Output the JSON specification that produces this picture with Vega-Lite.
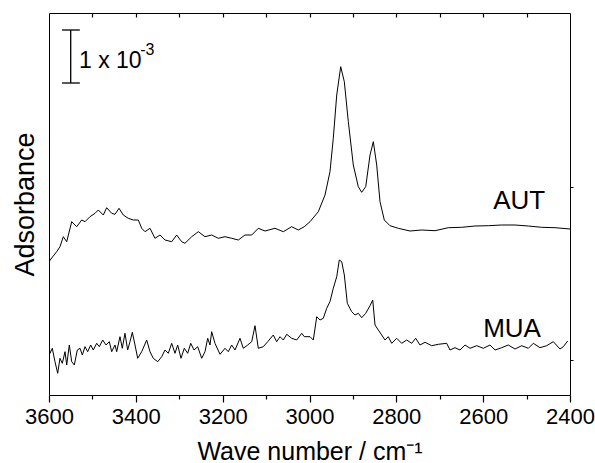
{
  "$schema": "https://vega.github.io/schema/vega-lite/v6.json",
  "width": 521,
  "height": 382,
  "autosize": {"type": "none"},
  "padding": {"left": 49, "top": 13, "right": 25, "bottom": 68},
  "background": "white",
  "config": {
    "view": {"stroke": null},
    "font": "Liberation Sans",
    "axis": {"domainColor": "black", "tickColor": "black", "labelColor": "black", "titleColor": "black", "grid": false, "labelFont": "Liberation Sans", "titleFont": "Liberation Sans", "titleFontWeight": "normal"}
  },
  "datasets": {
    "curves": [
      {"s":"AUT","w":3600,"a":133.3},{"s":"AUT","w":3593.8,"a":137},{"s":"AUT","w":3582.3,"a":143.3},{"s":"AUT","w":3574.7,"a":148.3},{"s":"AUT","w":3567.1,"a":158.3},{"s":"AUT","w":3559.2,"a":153.3},{"s":"AUT","w":3547.7,"a":173.3},{"s":"AUT","w":3536.2,"a":168.3},{"s":"AUT","w":3524.7,"a":175},{"s":"AUT","w":3517.1,"a":173.3},{"s":"AUT","w":3505.6,"a":178.3},{"s":"AUT","w":3494,"a":181.7},{"s":"AUT","w":3486.4,"a":185},{"s":"AUT","w":3474.9,"a":180},{"s":"AUT","w":3467.1,"a":187.3},{"s":"AUT","w":3455.6,"a":181.7},{"s":"AUT","w":3448,"a":180.7},{"s":"AUT","w":3438.8,"a":186.7},{"s":"AUT","w":3428.9,"a":180},{"s":"AUT","w":3417.4,"a":176.7},{"s":"AUT","w":3405.8,"a":175},{"s":"AUT","w":3394.3,"a":175},{"s":"AUT","w":3386.5,"a":166.7},{"s":"AUT","w":3378.9,"a":163.3},{"s":"AUT","w":3367.4,"a":166.7},{"s":"AUT","w":3355.9,"a":156.7},{"s":"AUT","w":3344.3,"a":160},{"s":"AUT","w":3332.8,"a":155},{"s":"AUT","w":3317.4,"a":153.3},{"s":"AUT","w":3305.9,"a":160},{"s":"AUT","w":3294.4,"a":153.3},{"s":"AUT","w":3286.8,"a":151.7},{"s":"AUT","w":3271.3,"a":158.3},{"s":"AUT","w":3256.1,"a":163.3},{"s":"AUT","w":3240.7,"a":158.3},{"s":"AUT","w":3225.3,"a":160},{"s":"AUT","w":3210.1,"a":156.7},{"s":"AUT","w":3194.6,"a":158.3},{"s":"AUT","w":3179.2,"a":156.7},{"s":"AUT","w":3164,"a":155},{"s":"AUT","w":3148.6,"a":160},{"s":"AUT","w":3133.1,"a":160},{"s":"AUT","w":3117.9,"a":166.7},{"s":"AUT","w":3102.5,"a":164},{"s":"AUT","w":3079.5,"a":166.7},{"s":"AUT","w":3060.3,"a":163.3},{"s":"AUT","w":3041,"a":168.3},{"s":"AUT","w":3025.8,"a":165},{"s":"AUT","w":3012,"a":168.3},{"s":"AUT","w":2998.8,"a":173.3},{"s":"AUT","w":2979.7,"a":183.3},{"s":"AUT","w":2964.3,"a":200},{"s":"AUT","w":2952.8,"a":223.3},{"s":"AUT","w":2945.2,"a":256.7},{"s":"AUT","w":2937.3,"a":300},{"s":"AUT","w":2928.1,"a":328.3},{"s":"AUT","w":2919.8,"a":313.3},{"s":"AUT","w":2910.6,"a":273.3},{"s":"AUT","w":2899.1,"a":230},{"s":"AUT","w":2887.6,"a":208.3},{"s":"AUT","w":2879.8,"a":202.7},{"s":"AUT","w":2870.5,"a":208.3},{"s":"AUT","w":2860.6,"a":240},{"s":"AUT","w":2853,"a":253.3},{"s":"AUT","w":2845.2,"a":230},{"s":"AUT","w":2837.6,"a":193.3},{"s":"AUT","w":2827.7,"a":175},{"s":"AUT","w":2814.6,"a":169.3},{"s":"AUT","w":2795.5,"a":166.7},{"s":"AUT","w":2768.5,"a":164},{"s":"AUT","w":2741.6,"a":165},{"s":"AUT","w":2710.9,"a":164.3},{"s":"AUT","w":2680.3,"a":167.3},{"s":"AUT","w":2649.4,"a":167.7},{"s":"AUT","w":2618.8,"a":169},{"s":"AUT","w":2588.2,"a":169.3},{"s":"AUT","w":2557.3,"a":170},{"s":"AUT","w":2526.7,"a":170},{"s":"AUT","w":2496,"a":169},{"s":"AUT","w":2465.2,"a":167.7},{"s":"AUT","w":2434.5,"a":167.3},{"s":"AUT","w":2400,"a":166},
      {"s":"MUA","w":3600,"a":50},{"s":"MUA","w":3597.7,"a":41.7},{"s":"MUA","w":3592.4,"a":46.7},{"s":"MUA","w":3586.2,"a":33.3},{"s":"MUA","w":3580,"a":21.7},{"s":"MUA","w":3574.7,"a":36.7},{"s":"MUA","w":3569.4,"a":31.7},{"s":"MUA","w":3563.1,"a":43.3},{"s":"MUA","w":3559.2,"a":30},{"s":"MUA","w":3553.2,"a":50},{"s":"MUA","w":3547.7,"a":33.3},{"s":"MUA","w":3541.7,"a":30},{"s":"MUA","w":3534.8,"a":45},{"s":"MUA","w":3528.6,"a":46.7},{"s":"MUA","w":3523.3,"a":40},{"s":"MUA","w":3517.1,"a":48.3},{"s":"MUA","w":3510.9,"a":43.3},{"s":"MUA","w":3504,"a":50},{"s":"MUA","w":3498,"a":45},{"s":"MUA","w":3490.1,"a":51.7},{"s":"MUA","w":3484.1,"a":48.3},{"s":"MUA","w":3476.3,"a":55},{"s":"MUA","w":3468.7,"a":50},{"s":"MUA","w":3461.1,"a":53.3},{"s":"MUA","w":3455.6,"a":43.3},{"s":"MUA","w":3448,"a":50},{"s":"MUA","w":3444.1,"a":43.3},{"s":"MUA","w":3436.5,"a":58.3},{"s":"MUA","w":3431.2,"a":46.7},{"s":"MUA","w":3425,"a":61.7},{"s":"MUA","w":3418.8,"a":45},{"s":"MUA","w":3413.4,"a":53.3},{"s":"MUA","w":3408.1,"a":62.7},{"s":"MUA","w":3401.9,"a":50},{"s":"MUA","w":3395.7,"a":36.7},{"s":"MUA","w":3386.5,"a":43.3},{"s":"MUA","w":3375,"a":55},{"s":"MUA","w":3367.4,"a":43.3},{"s":"MUA","w":3359.8,"a":36.7},{"s":"MUA","w":3349.6,"a":33.3},{"s":"MUA","w":3340.4,"a":38.3},{"s":"MUA","w":3332.8,"a":45},{"s":"MUA","w":3325.2,"a":41.7},{"s":"MUA","w":3317.4,"a":51.7},{"s":"MUA","w":3309.8,"a":41.7},{"s":"MUA","w":3303.6,"a":50},{"s":"MUA","w":3296,"a":36.7},{"s":"MUA","w":3288.4,"a":46.7},{"s":"MUA","w":3280.5,"a":41.7},{"s":"MUA","w":3273.6,"a":51.7},{"s":"MUA","w":3266,"a":45},{"s":"MUA","w":3257.5,"a":48.3},{"s":"MUA","w":3248.3,"a":36.7},{"s":"MUA","w":3240.7,"a":43.3},{"s":"MUA","w":3234.5,"a":56.7},{"s":"MUA","w":3229.2,"a":50},{"s":"MUA","w":3225.3,"a":63.3},{"s":"MUA","w":3217.7,"a":51.7},{"s":"MUA","w":3206.1,"a":40.7},{"s":"MUA","w":3194.6,"a":46.7},{"s":"MUA","w":3187,"a":43.3},{"s":"MUA","w":3179.2,"a":50},{"s":"MUA","w":3171.6,"a":45},{"s":"MUA","w":3160.1,"a":56.7},{"s":"MUA","w":3152.5,"a":46.7},{"s":"MUA","w":3142.3,"a":50},{"s":"MUA","w":3133.1,"a":53.3},{"s":"MUA","w":3125.5,"a":69.3},{"s":"MUA","w":3117.9,"a":46.7},{"s":"MUA","w":3106.4,"a":48.3},{"s":"MUA","w":3096.3,"a":53.3},{"s":"MUA","w":3083.4,"a":60},{"s":"MUA","w":3075.6,"a":53.3},{"s":"MUA","w":3067.9,"a":58.3},{"s":"MUA","w":3060.3,"a":55},{"s":"MUA","w":3052.5,"a":60.7},{"s":"MUA","w":3041,"a":56.7},{"s":"MUA","w":3029.5,"a":55},{"s":"MUA","w":3017.9,"a":61.7},{"s":"MUA","w":3011.9,"a":58.3},{"s":"MUA","w":2998.8,"a":58.3},{"s":"MUA","w":2991.2,"a":55},{"s":"MUA","w":2983.4,"a":78.3},{"s":"MUA","w":2975.8,"a":75},{"s":"MUA","w":2968.2,"a":76.7},{"s":"MUA","w":2960.4,"a":86.7},{"s":"MUA","w":2952.8,"a":93.3},{"s":"MUA","w":2945.2,"a":106.7},{"s":"MUA","w":2937.3,"a":118.3},{"s":"MUA","w":2931.4,"a":135},{"s":"MUA","w":2925.8,"a":133.3},{"s":"MUA","w":2919.8,"a":120},{"s":"MUA","w":2912.9,"a":91.7},{"s":"MUA","w":2902.8,"a":83.3},{"s":"MUA","w":2895.2,"a":80},{"s":"MUA","w":2887.6,"a":81.7},{"s":"MUA","w":2879.8,"a":77.3},{"s":"MUA","w":2870.5,"a":81.7},{"s":"MUA","w":2860.6,"a":89.3},{"s":"MUA","w":2854.4,"a":95},{"s":"MUA","w":2849.1,"a":70},{"s":"MUA","w":2841.5,"a":65},{"s":"MUA","w":2833.7,"a":60},{"s":"MUA","w":2826.1,"a":55},{"s":"MUA","w":2818.5,"a":58.3},{"s":"MUA","w":2810.7,"a":51.7},{"s":"MUA","w":2799.1,"a":56.7},{"s":"MUA","w":2787.6,"a":51.7},{"s":"MUA","w":2776.1,"a":55},{"s":"MUA","w":2764.6,"a":51.7},{"s":"MUA","w":2755.4,"a":56.7},{"s":"MUA","w":2745.5,"a":50},{"s":"MUA","w":2733.9,"a":52.7},{"s":"MUA","w":2718.5,"a":49.3},{"s":"MUA","w":2703.3,"a":50.7},{"s":"MUA","w":2684,"a":51.7},{"s":"MUA","w":2676.4,"a":45},{"s":"MUA","w":2664.9,"a":47.3},{"s":"MUA","w":2653.3,"a":45},{"s":"MUA","w":2641.8,"a":50},{"s":"MUA","w":2630.3,"a":46.7},{"s":"MUA","w":2614.9,"a":49.3},{"s":"MUA","w":2599.7,"a":46.7},{"s":"MUA","w":2584.3,"a":50},{"s":"MUA","w":2572.7,"a":45},{"s":"MUA","w":2557.3,"a":47.3},{"s":"MUA","w":2542.1,"a":50},{"s":"MUA","w":2526.7,"a":46},{"s":"MUA","w":2511.2,"a":49.3},{"s":"MUA","w":2496,"a":46.7},{"s":"MUA","w":2484.5,"a":51.7},{"s":"MUA","w":2469.1,"a":47.3},{"s":"MUA","w":2453.7,"a":49.3},{"s":"MUA","w":2438.5,"a":53.3},{"s":"MUA","w":2423,"a":46},{"s":"MUA","w":2415.4,"a":48.3},{"s":"MUA","w":2405.3,"a":54}
    ]
  },
  "resolve": {"axis": {"x": "independent", "y": "independent"}},
  "layer": [
    {
      "data": {"name": "curves"},
      "mark": {"type": "line", "color": "black", "strokeWidth": 1, "clip": true},
      "encoding": {
        "x": {"field": "w", "type": "quantitative",
          "scale": {"domain": [2400, 3600], "reverse": true, "nice": false, "zero": false},
          "axis": {"orient": "bottom", "title": "Wave number / cm⁻¹", "titleFontSize": 25, "titlePadding": 12,
            "values": [2400,2600,2800,3000,3200,3400,3600],
            "format": "d", "labelFontSize": 22, "labelPadding": 4, "labelFlush": false, "labelOverlap": false,
            "ticks": true, "tickSize": 7, "tickWidth": 1.2, "tickColor": "black"}},
        "y": {"field": "a", "type": "quantitative",
          "scale": {"domain": [0, 382], "nice": false, "zero": false},
          "axis": {"orient": "left", "title": "Adsorbance", "titleFontSize": 27, "titlePadding": 10, "labels": false, "ticks": false}},
        "detail": {"field": "s"}
      }
    },
    {
      "data": {"values": [{"w": 3550, "lo": 312, "hi": 365}]},
      "mark": {"type": "rule", "color": "black", "strokeWidth": 1.3},
      "encoding": {
        "x": {"field": "w", "type": "quantitative",
          "scale": {"domain": [2400, 3600], "reverse": true, "nice": false, "zero": false},
          "axis": {"orient": "top", "title": null, "labels": false, "ticks": true, "tickSize": -4, "tickWidth": 1.2, "tickColor": "black", "values": [2500,2600,2700,2800,2900,3000,3100,3200,3300,3400,3500]}},
        "y": {"field": "lo", "type": "quantitative",
          "scale": {"domain": [0, 382], "nice": false, "zero": false},
          "axis": {"orient": "right", "title": null, "labels": false, "tickSize": 3, "values": [35, 208]}},
        "y2": {"field": "hi"}
      }
    },
    {
      "data": {"values": [{"w1": 3570, "w2": 3529, "h": 312}, {"w1": 3570, "w2": 3529, "h": 365}]},
      "mark": {"type": "rule", "color": "black", "strokeWidth": 1.3},
      "encoding": {
        "x": {"field": "w1", "type": "quantitative",
          "axis": {"orient": "bottom", "title": null, "labels": false, "domain": false, "ticks": true, "tickSize": 4, "tickWidth": 1.2, "tickColor": "black", "values": [2500,2700,2900,3100,3300,3500]}},
        "x2": {"field": "w2"},
        "y": {"field": "h", "type": "quantitative", "axis": null}
      }
    },
    {
      "data": {"values": [{"t": "1 x 10", "w": 3531, "h": 327}]},
      "mark": {"type": "text", "align": "left", "baseline": "alphabetic", "fontSize": 23, "color": "black", "font": "Liberation Sans"},
      "encoding": {
        "x": {"field": "w", "type": "quantitative", "axis": null},
        "y": {"field": "h", "type": "quantitative", "axis": null},
        "text": {"field": "t"}
      }
    },
    {
      "data": {"values": [{"t": "-3", "w": 3390, "h": 340}]},
      "mark": {"type": "text", "align": "left", "baseline": "alphabetic", "fontSize": 16, "color": "black", "font": "Liberation Sans"},
      "encoding": {
        "x": {"field": "w", "type": "quantitative", "axis": null},
        "y": {"field": "h", "type": "quantitative", "axis": null},
        "text": {"field": "t"}
      }
    },
    {
      "data": {"values": [{"t": "AUT", "w": 2577, "h": 186}, {"t": "MUA", "w": 2600, "h": 58}]},
      "mark": {"type": "text", "align": "left", "baseline": "alphabetic", "fontSize": 26, "color": "black", "font": "Liberation Sans"},
      "encoding": {
        "x": {"field": "w", "type": "quantitative", "axis": null},
        "y": {"field": "h", "type": "quantitative", "axis": null},
        "text": {"field": "t"}
      }
    }
  ]
}
